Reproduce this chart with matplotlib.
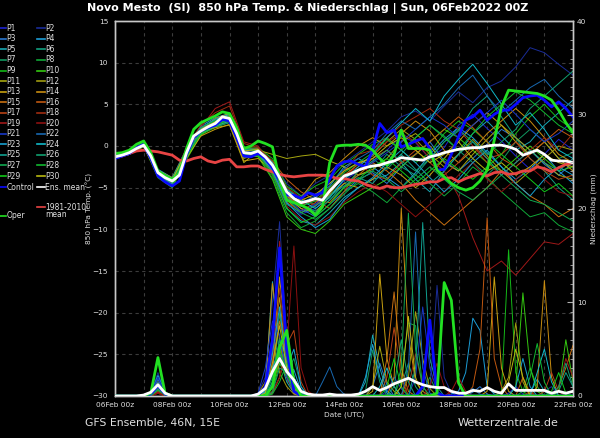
import numpy as np
import matplotlib
matplotlib.use('Agg')
import matplotlib.pyplot as plt
from matplotlib.lines import Line2D
from matplotlib.ticker import MultipleLocator

# time axes: days since 06Feb2022 00z (6-hourly and 12-hourly steps)
t6 = np.arange(65) / 4.0
t12 = np.arange(33) / 2.0

tick_days = [0, 2, 4, 6, 8, 10, 12, 14, 16]
tick_labels = ['06Feb 00z', '08Feb 00z', '10Feb 00z', '12Feb 00z', '14Feb 00z',
               '16Feb 00z', '18Feb 00z', '20Feb 00z', '22Feb 00z']

# ---------- 850 hPa temperature, members (12-hourly) ----------
temp_p01 = [-1.2,-0.6,0.3,-3.5,-4.6,-1.2,2.2,3.1,3.6,-0.4,-0.9,-3.0,-6.8,-8.2,-7.5,-6.0,-4.2,-3.0,-1.8,-0.5,1.2,0.4,-1.5,-0.2,2.5,3.8,2.1,0.6,-1.2,-2.8,-1.0,0.8,-0.5]
temp_p02 = [-1.4,-0.9,0.0,-3.0,-4.0,-0.5,2.0,2.9,3.0,-1.0,-0.3,-1.8,-4.5,-6.0,-4.5,-3.5,-2.0,-0.8,0.5,1.8,3.5,4.2,3.0,4.8,6.5,5.2,7.0,7.8,9.5,11.8,11.2,9.8,8.5]
temp_p03 = [-1.5,-1.0,0.2,-3.4,-4.4,-1.0,1.6,2.5,3.4,-0.6,-0.8,-2.8,-6.0,-7.5,-8.5,-7.0,-5.5,-4.0,-3.2,-4.5,-2.5,-1.0,0.5,-1.8,-3.0,-1.5,0.2,2.0,1.0,-0.5,-2.2,-3.5,-2.0]
temp_p04 = [-1.2,-0.7,0.4,-2.8,-3.8,-0.3,2.4,3.4,3.9,-0.2,-0.5,-2.0,-5.5,-7.0,-6.2,-4.8,-2.5,-1.5,-2.5,-3.8,-5.0,-3.2,-1.0,0.8,2.2,1.0,-0.8,-2.5,-4.0,-2.8,-1.0,-3.0,-4.5]
temp_p05 = [-1.3,-0.8,0.0,-3.3,-4.3,-1.0,1.5,2.3,2.8,-1.2,-1.0,-3.5,-7.5,-9.0,-9.5,-8.0,-6.2,-5.0,-4.0,-3.5,-2.0,-4.0,-5.5,-3.0,-1.0,1.5,3.0,1.2,-0.5,0.5,2.5,4.0,5.5]
temp_p06 = [-1.4,-0.9,0.1,-3.1,-4.1,-0.7,1.9,2.8,3.2,-0.9,-0.4,-2.5,-5.8,-7.2,-7.8,-6.5,-4.5,-3.5,-3.0,-1.0,-2.5,-3.5,-1.5,0.5,1.8,4.5,6.0,3.5,1.0,-1.5,-3.0,-5.0,-6.5]
temp_p07 = [-1.1,-0.6,0.3,-3.0,-4.0,-0.4,2.1,3.0,3.5,-0.5,-0.7,-2.2,-5.0,-6.5,-7.0,-6.0,-4.0,-2.8,-1.5,-2.8,-1.0,1.0,2.5,1.2,-0.5,-2.0,-3.5,-1.8,0.5,2.0,0.5,-1.5,-0.8]
temp_p08 = [-1.3,-0.8,0.2,-3.6,-4.8,-1.5,1.4,2.2,2.9,-1.4,-1.2,-3.8,-8.0,-9.8,-9.0,-7.5,-5.5,-4.5,-5.5,-6.8,-5.0,-3.5,-4.5,-6.0,-4.5,-2.5,-3.8,-5.5,-7.0,-8.5,-8.0,-9.5,-10.3]
temp_p09 = [-1.2,-0.7,0.4,-3.2,-4.2,-0.6,2.0,3.0,3.8,-0.3,-0.2,-1.5,-4.8,-6.0,-4.8,-4.0,-2.2,-1.0,0.2,1.0,-0.5,-2.0,-0.8,1.5,3.0,2.0,0.5,-1.0,1.5,3.5,5.0,3.2,2.0]
temp_p10 = [-1.5,-1.0,0.0,-3.8,-5.0,-1.6,1.3,2.4,3.0,-1.0,-1.3,-4.0,-8.5,-10.0,-10.5,-9.0,-7.0,-6.0,-5.0,-4.0,-2.5,-1.0,0.5,2.0,1.0,-0.5,-2.0,-3.0,-1.5,0.0,-1.5,-3.0,-2.5]
temp_p11 = [-1.2,-0.8,0.2,-2.9,-3.8,-0.5,1.8,2.2,2.5,-2.0,-0.5,-1.0,-1.5,-1.2,-1.0,-1.8,-2.5,-3.5,-2.8,-1.5,0.5,1.5,0.0,-2.0,-3.0,-1.0,0.8,2.5,1.0,-0.5,-2.0,-3.5,-4.0]
temp_p12 = [-1.3,-0.9,0.1,-3.3,-4.5,-1.3,1.6,2.6,3.1,-1.5,-0.9,-3.2,-6.5,-8.0,-7.2,-5.8,-3.5,-2.2,-1.2,0.5,2.0,0.8,-1.0,-2.5,-1.0,0.8,-1.2,-3.0,-4.5,-3.0,-1.5,0.0,-0.5]
temp_p13 = [-1.4,-1.0,-0.1,-3.5,-4.7,-1.4,1.2,2.0,2.6,-1.8,-1.5,-3.0,-6.2,-7.5,-8.0,-6.0,-4.5,-5.0,-4.0,-2.5,-3.5,-5.0,-3.5,-1.5,0.5,2.5,4.0,2.5,0.5,-1.0,0.5,-1.5,-3.0]
temp_p14 = [-1.2,-0.7,0.3,-3.0,-4.0,-0.6,2.0,3.3,3.9,-0.8,-0.6,-2.6,-5.5,-6.2,-4.0,-3.2,-1.5,0.0,1.0,0.0,1.5,3.0,1.8,-0.5,-2.0,-0.5,1.5,3.0,4.5,3.0,1.0,-1.0,-2.0]
temp_p15 = [-1.3,-0.8,0.2,-3.4,-4.4,-1.1,1.7,2.6,3.4,-0.7,-0.8,-2.4,-6.0,-7.2,-6.5,-6.8,-5.0,-3.5,-2.0,-3.0,-4.5,-6.5,-8.0,-9.5,-8.0,-6.5,-5.0,-3.0,-4.5,-6.0,-7.0,-8.5,-7.5]
temp_p16 = [-1.5,-1.0,0.0,-3.2,-4.1,-0.9,1.9,2.9,3.7,-0.2,-0.3,-1.8,-4.0,-5.5,-6.5,-7.5,-5.5,-3.0,-1.5,-0.5,-2.0,-1.0,0.5,2.0,3.5,2.2,0.5,-1.5,-2.5,-1.0,0.5,2.0,1.0]
temp_p17 = [-1.2,-0.7,0.3,-3.1,-4.3,-0.8,1.8,2.7,3.3,-1.1,-0.8,-3.0,-6.8,-7.8,-6.8,-5.2,-4.0,-2.0,-3.5,-4.0,-2.0,-0.5,-2.0,-3.5,-2.0,0.0,-1.5,-1.0,0.5,-1.5,-3.0,-4.0,-3.5]
temp_p18 = [-1.4,-0.9,0.1,-3.0,-4.0,-0.2,2.5,4.0,4.8,0.3,-0.2,-2.0,-5.0,-6.2,-7.2,-5.5,-3.0,-1.0,-0.5,1.0,2.5,3.5,4.5,3.0,2.0,0.0,-2.0,-3.5,-2.0,-0.5,1.0,-0.5,1.5]
temp_p19 = [-1.3,-0.8,0.2,-3.3,-4.2,-0.7,2.2,4.5,5.3,0.5,0.0,-2.5,-5.5,-7.0,-6.5,-5.0,-3.5,-2.5,-1.0,0.5,1.5,0.5,-1.5,-3.0,-6.0,-11.0,-15.0,-13.8,-15.5,-13.5,-11.5,-11.8,-10.5]
temp_p20 = [-1.2,-0.8,0.0,-3.4,-4.5,-1.0,1.6,2.5,3.0,-1.2,-1.0,-3.5,-7.2,-8.8,-9.5,-8.5,-6.8,-5.5,-4.5,-5.5,-7.0,-8.5,-7.0,-5.5,-3.5,-2.0,-4.0,-5.5,-4.0,-2.5,-4.0,-5.5,-6.0]
temp_p21 = [-1.4,-0.9,0.2,-3.2,-4.3,-0.9,1.8,2.8,3.3,-0.6,-0.7,-2.8,-6.2,-7.8,-7.0,-5.5,-3.8,-3.0,-2.0,-0.8,0.5,2.0,3.5,2.5,1.0,2.5,4.0,5.5,3.8,2.0,0.5,1.5,3.0]
temp_p22 = [-1.3,-0.8,0.1,-3.1,-4.1,-0.8,1.9,2.9,3.4,-0.9,-0.6,-2.5,-5.5,-6.8,-6.0,-4.5,-2.8,-1.5,-0.5,1.5,3.0,2.0,3.5,5.0,7.0,8.5,6.0,4.0,5.5,7.0,8.0,6.0,4.5]
temp_p23 = [-1.2,-0.7,0.3,-3.4,-4.6,-1.2,1.5,2.4,3.0,-1.0,-0.9,-2.9,-6.8,-8.5,-9.8,-8.8,-6.5,-5.0,-3.8,-2.0,-0.5,-2.0,-3.8,-5.5,-4.0,-2.0,-0.5,-2.5,-4.5,-6.0,-4.0,-2.5,-3.5]
temp_p24 = [-1.5,-1.0,0.0,-3.0,-4.0,-0.5,2.2,3.2,3.8,-0.4,-0.4,-2.0,-5.2,-6.5,-7.5,-6.2,-4.0,-2.5,-1.0,1.0,2.8,4.5,3.0,6.0,8.0,9.8,7.5,5.0,2.5,4.0,2.0,-0.5,-1.5]
temp_p25 = [-1.3,-0.8,0.2,-3.5,-4.4,-1.0,1.7,2.6,3.2,-0.7,-0.9,-3.2,-7.0,-8.0,-7.2,-6.0,-4.8,-3.8,-4.5,-2.5,-1.0,-2.8,-4.5,-3.0,-1.0,0.5,-1.5,-3.5,-2.0,-0.5,-2.0,-3.0,-1.5]
temp_p26 = [-1.2,-0.7,0.4,-2.9,-3.9,-0.4,2.2,3.1,3.6,-0.3,-0.4,-2.2,-5.8,-7.0,-8.0,-6.5,-5.0,-3.0,-1.8,-0.5,-1.8,-3.0,-1.5,0.5,2.0,0.5,-1.0,0.5,2.0,4.5,6.0,7.5,9.0]
temp_p27 = [-1.4,-0.9,0.1,-3.3,-4.3,-0.9,1.8,2.8,3.3,-0.8,-0.7,-2.7,-6.3,-8.0,-8.8,-7.5,-5.8,-4.2,-3.0,-4.0,-5.5,-4.0,-2.5,-4.0,-5.5,-6.5,-5.0,-3.5,-5.0,-6.5,-7.0,-8.0,-9.0]
temp_p28 = [-1.3,-0.8,0.3,-3.2,-4.2,-0.7,2.0,3.0,3.5,-0.5,-0.5,-2.3,-5.6,-7.2,-6.6,-5.0,-3.2,-2.0,-0.8,0.8,-0.5,1.0,2.5,1.0,-0.5,1.5,3.5,5.0,6.5,5.5,4.0,2.5,1.5]
temp_p29 = [-1.2,-0.7,0.2,-3.6,-4.7,-1.3,1.5,2.5,3.1,-1.1,-1.1,-3.4,-7.5,-9.2,-8.5,-7.0,-5.0,-4.0,-2.5,-1.5,-3.0,-4.5,-3.0,-1.5,-2.8,-4.0,-2.5,-1.0,-2.5,-4.0,-5.5,-4.5,-6.0]
temp_p30 = [-1.4,-0.9,0.1,-3.0,-4.1,-0.6,2.0,2.9,3.5,-0.6,-0.4,-2.5,-6.0,-6.5,-5.8,-4.5,-3.0,-2.0,-1.5,0.0,1.0,-0.5,-2.0,-1.0,0.5,-1.5,-3.0,-2.0,-3.5,-2.5,-1.0,-2.0,-2.5]

# ---------- precipitation, members (6-hourly, mm) ----------
prcp_p01 = [0,0,0,0,0,0.3,1.5,0.2,0,0,0,0,0,0,0,0,
            0,0,0,0,0.1,0.5,3.0,9.0,5.0,1.0,0.2,0,0,0,0,0,
            0,0,0,0,0,0,0.5,2.0,0.8,0,0,0,0,0,0,0,
            0,0,0,0,0,0,0,0.3,1.0,0.2,0,0,0,0,0,0,0]
prcp_p02 = [0,0,0,0,0,0.2,2.5,0.3,0,0,0,0,0,0,0,0,
            0,0,0,0,0.3,2.0,10.0,18.6,6.0,1.5,0.3,0,0,0,0,0,
            0,0,0,0,0,0,0,0,0,0,0,0,0.5,11.8,2.0,0.3,
            0,0,0,0,0,0,0,0,0,0,0,0,0.5,1.0,0,0,0]
prcp_p03 = [0,0,0,0,0,0.2,1.8,0.2,0,0,0,0,0,0,0,0,
            0,0,0,0,0.1,1.0,6.5,4.0,2.5,0.5,0,0,0,0,0,0,
            0,0,0,0,1.0,3.5,1.2,0,0,0,0,0,0,0,0,0,
            0,0,0.4,1.0,0.2,0,0,0,0,0,0,0,0,0,0,0,0]
prcp_p04 = [0,0,0,0,0,0.3,2.2,0.4,0,0,0,0,0,0,0,0,
            0,0,0,0,0,0.3,2.5,5.5,3.0,2.8,0.5,0,0,0,0,0,
            0,0,0,0,0,0,0,0,0,0,0,0,0,0,0,0.2,
            0.5,2.5,8.3,7.0,1.0,0.2,0,0,0,0,0,0,0,0,0,0,0]
prcp_p05 = [0,0,0,0,0,0.1,1.2,0.2,0,0,0,0,0,0,0,0,
            0,0,0,0,0,0.8,12.2,4.0,1.5,0.3,0,0,0,0,0,0,
            0,0,0,1.5,6.5,3.0,0.5,0,0,0,0,0,0,0,0,0,
            0,0,0,0,0,0,0,0,0,0,0.3,1.8,0.5,0,0,0,0]
prcp_p06 = [0,0,0,0,0,0.1,0.8,0.1,0,0,0,0,0,0,0,0,
            0,0,0,0,0,0,1.5,3.5,7.0,2.0,0.2,0,0,0,0,0,
            0,0,0,0,0,0,0,0,1.0,3.5,1.0,0,0,0,0,0,
            0,0,0,0,0,0,0,0,0,0,0,0,0,0,0.5,2.5,1.0]
prcp_p07 = [0,0,0,0,0,0.2,1.5,0.2,0,0,0,0,0,0,0,0,
            0,0,0,0,0,0.2,2.0,5.0,2.5,4.0,1.0,0,0,0,0,0,
            0,0,0,0.5,4.9,1.5,0,0,0,0,0,0.5,2.0,0.4,0,0,
            0,0,0,0,0,0,0,0,0,0,0,0,0,0,0,0,0]
prcp_p08 = [0,0,0,0,0,0.1,1.0,0.1,0,0,0,0,0,0,0,0,
            0,0,0,0,0,0,1.0,8.8,3.0,0.5,0,0,0,0,0,0,
            0,0,0,0,0,0,0,0,2.0,7.8,7.5,1.0,0,0,0,0,
            0,0,0,0,0,0,0,0,0,0.5,3.0,1.0,0,0,0,0,0]
prcp_p09 = [0,0,0,0,0,0,0.5,0.1,0,0,0,0,0,0,0,0,
            0,0,0,0,0,0,0.3,2.0,4.5,1.5,0.2,0,0,0,0,0,
            0,0,0,0,0,0,0,0,0,0,0,0,0,0,0,0,
            0,0,0,0,0,0,0.5,15.6,2.5,0.5,0,0,0,0,0,0,0]
prcp_p10 = [0,0,0,0,0,0.1,1.2,0.2,0,0,0,0,0,0,0,0,
            0,0,0,0,0,0,0.5,3.5,2.0,0.5,0,0,0,0,0,0,
            0,0,0,0,0,0,0,0,0,0,0,0,0,0,0,0,
            0,0,0,0,0,0,0,0,1.0,11.0,3.0,0.5,0,0,0.5,6.0,1.5]
prcp_p11 = [0,0,0,0,0,0,0.6,0.1,0,0,0,0,0,0,0,0,
            0,0,0,0,0,0.4,5.0,10.5,3.5,0.8,0,0,0,0,0,0,
            0,0,0,0,1.0,5.3,1.5,0.5,0,0,0,0,0,0,0,0,
            0,0,0,0,0,0,0,0,0,0,0,0,0,0,0,0,0]
prcp_p12 = [0,0,0,0,0,0,0.4,0,0,0,0,0,0,0,0,0,
            0,0,0,0,0.2,1.5,6.0,2.5,1.0,0.2,0,0,0,0,0,0,
            0,0,0,0,0,0,0,0,0,2.0,9.0,4.0,0.8,0,0,0,
            0,0,0,0,0,0,0.5,2.0,7.8,1.5,0,0,0,0,0,0,0]
prcp_p13 = [0,0,0,0,0,0.1,1.0,0.1,0,0,0,0,0,0,0,0,
            0,0,0,0,0,0.2,2.5,12.7,5.0,1.0,0,0,0,0,0,0,
            0,0,0,0,0.5,13.0,4.0,1.0,0,0,0,0,0,0,0,0,
            0,0,0,0,0.5,12.7,3.0,0.5,0,0,0,0,0,0,0,0,0]
prcp_p14 = [0,0,0,0,0,0.2,1.5,0.2,0,0,0,0,0,0,0,0,
            0,0,0,0,0,0.5,12.0,6.0,2.0,0.3,0,0,0,0,0,0,
            0,0,0,0,0,0,0,2.0,20.0,6.5,1.5,0.5,0,0,0,0,
            0,0,0,0,0,0,0,0,0,0,0,1.0,12.3,2.0,0,0,0]
prcp_p15 = [0,0,0,0,0,0.1,0.8,0.1,0,0,0,0,0,0,0,0,
            0,0,0,0,0,0.2,3.0,8.0,4.5,1.0,0,0,0,0,0,0,
            0,0,0,0,0,0,4.0,11.1,3.0,0.5,0,0,0,0,0,0,
            0,0,0,0,0,0,0,0,0,0,0,0,0,0,1.0,3.0,5.4]
prcp_p16 = [0,0,0,0,0,0,0.5,0.1,0,0,0,0,0,0,0,0,
            0,0,0,0,0,0,1.0,4.0,6.5,2.0,0.3,0,0,0,0,0,
            0,0,0,0,0,0,0,0,0,0,0,0,0,0,0,0,
            0,0,1.0,5.0,19.0,4.0,1.0,0,0,2.0,0.3,0,0,0,0,0,0]
prcp_p17 = [0,0,0,0,0,0,0.3,0,0,0,0,0,0,0,0,0,
            0,0,0,0,0,0,0.3,2.0,5.5,7.0,1.5,0,0,0,0,0,
            0,0,0,0,0,0,2.0,7.3,2.0,0,0,0,0,0,0,0,
            0,0,0,0,0,0,0,0,0,0,0,0,0.5,2.5,0.5,0,0]
prcp_p18 = [0,0,0,0,0,0,0.5,0.1,0,0,0,0,0,0,0,0,
            0,0,0,0,0,0.3,3.5,11.5,4.0,1.0,0,0,0,0,0,0,
            0,0,0,0,0,0,0,0,0,1.0,4.5,1.0,0,0,0,0,
            0,0,0,0,0,0,0,0,0,0,0.5,0,0,0,0,0,0]
prcp_p19 = [0,0,0,0,0,0,0.4,0,0,0,0,0,0,0,0,0,
            0,0,0,0,0,0.5,4.0,16.5,5.0,1.0,0,0,0,0,0,0,
            0,0,0,0,0,0,0,0,0,0,0,0,0,0,0,0.5,
            2.0,0.5,0,0,0,0,0,0,0,0,0,0,0,0,1.0,4.0,2.0]
prcp_p20 = [0,0,0,0,0,0,0.3,0,0,0,0,0,0,0,0,0,
            0,0,0,0,0,0,0.5,2.0,5.0,16.0,3.0,0.5,0,0,0,0,
            0,0,0,0,0,0,0,0,0,0,0,0,1.0,3.5,1.0,0,
            0,0,0,0,0,0,0,0,0,0,0,0,0,0,0,0,0]
prcp_p21 = [0,0,0,0,0,0.3,2.0,0.3,0,0,0,0,0,0,0,0,
            0,0,0,0,0.3,3.0,8.0,6.5,2.0,0.5,0,0,0,0,0,0,
            0,0,0,0,0,0,0,0,0,0,2.0,9.5,3.0,0.5,0,0,
            0,0,0,0,0,0,0,0,0,0,0,0,0,0,0,0,0]
prcp_p22 = [0,0,0,0,0,0.2,1.5,0.2,0,0,0,0,0,0,0,0,
            0,0,0,0,0,0.2,2.0,6.0,3.0,0.8,0,0,0,1.5,3.1,1.0,
            0.2,0,0,0,0,0,0,0,0,3.0,17.5,3.0,0.3,0,0,0,
            0,0.3,0.8,0.2,0,0,0,0,0,0,0,0,0,0,0,0,0]
prcp_p23 = [0,0,0,0,0,0.1,1.0,0.1,0,0,0,0,0,0,0,0,
            0,0,0,0,0,0.4,4.5,9.5,3.0,5.0,1.0,0,0,0,0,0,
            0,0,0,2.0,5.5,2.0,0.3,0,0,0,0,0,0,0,0,0,
            0,0,0,0,0,0,0,0,1.0,4.0,1.0,0,0,0,0,0,0]
prcp_p24 = [0,0,0,0,0,0.1,1.2,0.2,0,0,0,0,0,0,0,0,
            0,0,0,0,0,0.5,3.0,5.0,7.0,2.0,0.3,0,0,0,0,0,
            0,0,0,0,0,1.0,3.0,1.0,0,0,0,0,0,0,0,0,
            0,0,0,0,0,0,0,0,0,0,0,2.5,5.0,1.5,0,0,0]
prcp_p25 = [0,0,0,0,0,0.1,0.7,0.1,0,0,0,0,0,0,0,0,
            0,0,0,0,0,0,1.5,4.5,3.0,0.5,0,0,0,0,0,0,
            0,0,0,0,0,0,0,0,0,0,3.0,18.5,4.0,1.0,0,0,
            0,0,0,0,0,0,0,0,0,0,0,0,0,0,0,0,0]
prcp_p26 = [0,0,0,0,0,0.1,0.9,0.1,0,0,0,0,0,0,0,0,
            0,0,0,0,0,0,0.4,3.0,2.5,1.0,0,0,0,0,0,0,
            0,0,0,0,0,0,0,1.0,6.0,1.5,0,0,0,0,0,0,
            0,0,0,0,0,0,0,0,0,0,0,0,0,0,1.0,3.5,1.0]
prcp_p27 = [0,0,0,0,0,0.2,1.3,0.2,0,0,0,0,0,0,0,0,
            0,0,0,0,0,0.2,2.0,6.0,4.0,1.0,0,0,0,0,0,0,
            0,0,0,0,0,0,0,0,3.0,19.5,5.0,1.0,0,0,0,0,
            0,0,0,0,0,0,0,0,0,0,0,0,0,0,0,0,0]
prcp_p28 = [0,0,0,0,0,0,0.6,0.1,0,0,0,0,0,0,0,0,
            0,0,0,0,0,0,0.2,1.5,3.5,2.0,0.2,0,0,0,0,0,
            0,0,0,0,0,0,0,0,0,0,0,0,0,0,0,0,
            0,0,0,0,0,0,0,0,0,0,2.0,5.6,1.5,0,0,0,0]
prcp_p29 = [0,0,0,0,0,0.1,0.9,0.1,0,0,0,0,0,0,0,0,
            0,0,0,0,0,0,1.0,5.0,2.5,0.5,0,0,0,0,0,0,
            0,0,0,0,0,0,1.0,4.0,1.0,0,0,0,0,0,0,0,
            0,0,0,0,0,0,0,0,0,0,0,0,0,0.5,2.5,0.3,0]
prcp_p30 = [0,0,0,0,0,0.1,1.0,0.1,0,0,0,0,0,0,0,0,
            0,0,0,0,0,0.3,3.5,7.5,3.0,0.8,0,0,0,0,0,0,
            0,0,0,0,0,0,0,0,1.0,8.5,2.0,0,0,0,0,0,
            0,0,0,0,0,0,0,1.5,5.0,2.0,0,0,0,0,0,0,0]

# ---------- highlighted runs (6-hourly) ----------
control_temp = [-1.5,-1.2,-0.9,-0.2,0.2,-1.5,-3.6,-4.3,-4.8,-4.2,-1.0,1.0,1.8,2.2,2.5,3.2,
                3.0,1.0,-1.2,-1.3,-0.9,-1.5,-2.6,-4.2,-5.9,-5.9,-6.3,-5.6,-5.9,-5.6,-4.0,-2.4,
                -1.9,-1.8,-2.2,-2.5,-0.5,2.7,1.6,1.9,-0.1,0.2,0.6,0.9,-0.3,-2.9,-2.8,-1.0,
                1.1,3.1,3.5,4.3,3.1,3.8,4.3,4.3,5.0,5.8,6.0,6.1,5.5,4.7,5.3,4.5,3.5]
oper_temp = [-0.9,-0.8,-0.5,0.2,0.6,-0.8,-3.0,-3.6,-4.0,-3.3,-0.3,2.0,2.8,3.2,3.6,4.1,
             3.9,2.2,-0.3,0.0,0.6,0.3,-0.1,-4.1,-6.5,-6.8,-7.1,-7.5,-8.3,-7.3,-2.0,0.0,
             0.1,0.1,0.2,0.1,-0.5,-1.5,-2.3,-1.0,1.9,-0.3,-0.3,-0.3,-0.5,-2.9,-3.7,-4.5,
             -5.0,-5.3,-5.0,-4.2,-2.9,0.7,4.7,6.7,6.6,6.5,6.4,6.3,6.0,5.5,4.3,2.8,1.6]
mean_temp = [-1.3,-1.1,-0.8,-0.3,0.1,-1.2,-3.2,-3.8,-4.2,-3.5,-0.8,1.2,1.8,2.3,2.7,3.5,
             3.3,1.5,-0.8,-0.9,-0.6,-1.3,-2.3,-3.8,-5.5,-6.3,-6.8,-6.6,-6.3,-6.5,-5.4,-4.5,
             -3.6,-3.3,-2.9,-2.6,-2.4,-2.3,-2.0,-1.8,-1.4,-1.5,-1.6,-1.7,-1.3,-1.1,-0.8,-0.6,
             -0.4,-0.3,-0.2,-0.2,0.0,0.1,0.1,-0.1,-0.4,-1.1,-0.8,-0.5,-1.0,-1.7,-1.8,-1.8,-2.0]
clim_temp = [-1.4,-1.2,-0.9,-0.6,-0.5,-0.6,-0.7,-0.9,-1.1,-1.7,-1.8,-1.5,-1.3,-1.8,-2.0,-1.7,
             -1.6,-2.5,-2.5,-2.4,-2.4,-2.8,-3.1,-3.4,-3.6,-3.7,-3.6,-3.5,-3.5,-3.5,-3.6,-3.9,
             -3.9,-4.1,-4.2,-4.6,-4.9,-5.1,-4.8,-5.0,-5.0,-4.8,-4.6,-4.5,-4.3,-4.3,-3.9,-3.8,
             -4.3,-3.9,-3.6,-3.3,-3.6,-3.2,-3.1,-3.4,-3.3,-3.0,-3.0,-2.5,-2.7,-3.1,-2.6,-2.2,-2.0]

control_prcp = [0,0,0,0,0,0.2,1.1,0.2,0,0,0,0,0,0,0,0,
                0,0,0,0,0,1.0,6.0,15.8,5.0,0.5,0,0,0,0,0,0,
                0,0,0,0,0,0,0,0,0,0,0,1.0,8.1,0.3,0,0,
                0,0,0,0,0,0,0,0,0,0,0,0,0,0,0,0,0]
oper_prcp = [0,0,0,0,0,0.3,4.1,0.3,0,0,0,0,0,0,0,0,
             0,0,0,0,0,0,1.0,5.2,7.0,1.5,0,0,0,0,0,0,
             0,0,0,0,0,0,0,0,0,0,0,0,0,0.3,12.1,10.2,
             1.4,0,0,0,0,0,0,0,0,0,0,0,0,0,0,0,0]
mean_prcp = [0,0,0,0,0.1,0.4,1.2,0.3,0,0,0,0,0,0,0,0,
             0,0,0,0,0.2,0.8,2.6,4.0,2.6,1.7,0.5,0.2,0.1,0.1,0.2,0.1,
             0.1,0.1,0.2,0.5,1.0,0.6,0.9,1.3,1.6,1.9,1.5,1.2,1.0,0.9,0.9,0.5,
             0.3,0.3,0.6,0.5,0.9,0.5,0.3,1.3,0.6,0.6,0.6,0.6,0.6,0.3,0.5,0.3,0.5]

member_temp = [temp_p01, temp_p02, temp_p03, temp_p04, temp_p05, temp_p06, temp_p07, temp_p08,
               temp_p09, temp_p10, temp_p11, temp_p12, temp_p13, temp_p14, temp_p15, temp_p16,
               temp_p17, temp_p18, temp_p19, temp_p20, temp_p21, temp_p22, temp_p23, temp_p24,
               temp_p25, temp_p26, temp_p27, temp_p28, temp_p29, temp_p30]
member_prcp = [prcp_p01, prcp_p02, prcp_p03, prcp_p04, prcp_p05, prcp_p06, prcp_p07, prcp_p08,
               prcp_p09, prcp_p10, prcp_p11, prcp_p12, prcp_p13, prcp_p14, prcp_p15, prcp_p16,
               prcp_p17, prcp_p18, prcp_p19, prcp_p20, prcp_p21, prcp_p22, prcp_p23, prcp_p24,
               prcp_p25, prcp_p26, prcp_p27, prcp_p28, prcp_p29, prcp_p30]
member_names = ['P%d' % i for i in range(1, 31)]
member_colors = ['#1e22d0', '#1a2c98', '#2a78d0', '#1c9ed8', '#18a8b4', '#10a080', '#109860', '#10a838',
                 '#14b818', '#34c810', '#a8a810', '#a09c10', '#c8a010', '#c88c10', '#c87010', '#c05810',
                 '#b84214', '#a02c10', '#a01818', '#8c1010', '#1838c8', '#1868b0', '#18a0d0', '#10b8c8',
                 '#10a090', '#10a070', '#10a850', '#10b830', '#10c818', '#b8b810']

BLUE = '#0a0aff'
GREEN = '#22e022'
WHITE = '#ffffff'
RED = '#e84444'
TXT = '#e0e0e0'

fig = plt.figure(figsize=(6, 4.38), dpi=100, facecolor='black')
ax = fig.add_axes([115 / 600, 42 / 438, 458 / 600, 375 / 438])
ax.set_facecolor('black')
ax2 = ax.twinx()

# temperatures (left axis)
for temps, col in zip(member_temp, member_colors):
    ax.plot(t12, temps, color=col, lw=0.7, zorder=2)
ax.plot(t6, clim_temp, color=RED, lw=2.0, zorder=3)
ax.plot(t6, control_temp, color=BLUE, lw=2.0, zorder=4)
ax.plot(t6, oper_temp, color=GREEN, lw=2.0, zorder=5)
ax.plot(t6, mean_temp, color=WHITE, lw=2.0, zorder=6)

# precipitation (right axis)
for pr, col in zip(member_prcp, member_colors):
    ax2.plot(t6, pr, color=col, lw=0.7, zorder=2)
ax2.plot(t6, control_prcp, color=BLUE, lw=2.0, zorder=4)
ax2.plot(t6, oper_prcp, color=GREEN, lw=2.0, zorder=5)
ax2.plot(t6, mean_prcp, color=WHITE, lw=2.0, zorder=6)

ax.set_xlim(0, 16)
ax.set_ylim(-30, 15)
ax2.set_ylim(0, 40)

ax.set_xticks(tick_days)
ax.set_xticklabels(tick_labels)
ax.set_xticks(range(17), minor=True)
ax.set_yticks([-30, -25, -20, -15, -10, -5, 0, 5, 10, 15])
ax.grid(which='both', axis='x', color='#3c3c3c', linestyle=(0, (3, 3)), lw=0.8)
ax.grid(which='major', axis='y', color='#3c3c3c', linestyle=(0, (3, 3)), lw=0.8)
ax.set_axisbelow(True)
ax.tick_params(axis='both', which='both', length=0, colors=TXT, labelsize=5.3)
ax.tick_params(axis='y', pad=5)
ax.tick_params(axis='x', pad=4)

ax2.set_yticks([0, 10, 20, 30, 40])
ax2.yaxis.set_minor_locator(MultipleLocator(1))
ax2.tick_params(axis='y', which='major', direction='in', length=4, width=0.8,
                colors='#b0b0b0', labelcolor=TXT, labelsize=5.3, pad=3)
ax2.tick_params(axis='y', which='minor', direction='in', length=2.5, width=0.6, colors='#b0b0b0')

for a in (ax, ax2):
    for s in a.spines.values():
        s.set_color('#c8c8c8')
        s.set_linewidth(1.0)

ax.set_xlabel('Date (UTC)', color=TXT, fontsize=5.3)
ax.xaxis.set_label_coords(0.5, -0.042)
ax.set_ylabel('850 hPa Temp. (°C)', color=TXT, fontsize=5.3)
ax.yaxis.set_label_coords(-0.048, 0.5)
ax2.set_ylabel('Niederschlag (mm)', color=TXT, fontsize=5.3)
ax2.yaxis.set_label_coords(1.039, 0.5)

fig.text(308 / 600, 1 - 8.5 / 438,
         'Novo Mesto  (SI)  850 hPa Temp. & Niederschlag | Sun, 06Feb2022 00Z',
         ha='center', va='center', color='white', fontsize=8, fontweight='bold')
fig.text(85 / 600, 1 - 423 / 438, 'GFS Ensemble, 46N, 15E',
         ha='left', va='center', color=TXT, fontsize=7.8)
fig.text(458 / 600, 1 - 423 / 438, 'Wetterzentrale.de',
         ha='left', va='center', color=TXT, fontsize=8)


# hand-made legend in the left margin
def legend_entry(x_line, x_text, y_px, color, label, lw=1.2):
    yf = 1 - y_px / 438
    fig.add_artist(Line2D([x_line[0] / 600, x_line[1] / 600], [yf, yf],
                          transform=fig.transFigure, color=color, lw=lw))
    fig.text(x_text / 600, yf, label, ha='left', va='center', color=TXT, fontsize=5.5)


for i, (name, col) in enumerate(zip(member_names, member_colors)):
    row = i // 2
    y = 28.3 + 10.55 * row
    if i % 2 == 0:
        legend_entry((0, 5.5), 6.3, y, col, name)
    else:
        legend_entry((37, 44.5), 45.3, y, col, name)

legend_entry((0, 5.5), 6.3, 187.3, BLUE, 'Control')
legend_entry((37, 44.5), 45.3, 187.3, WHITE, 'Ens. mean')
legend_entry((0, 5.5), 6.3, 216, GREEN, 'Oper')
legend_entry((37, 44.5), 45.3, 207, RED, '1981-2010')
fig.text(45.3 / 600, 1 - 214.5 / 438, 'mean', ha='left', va='center', color=TXT, fontsize=5.5)

fig.savefig('out.png', dpi=100, facecolor='black')
